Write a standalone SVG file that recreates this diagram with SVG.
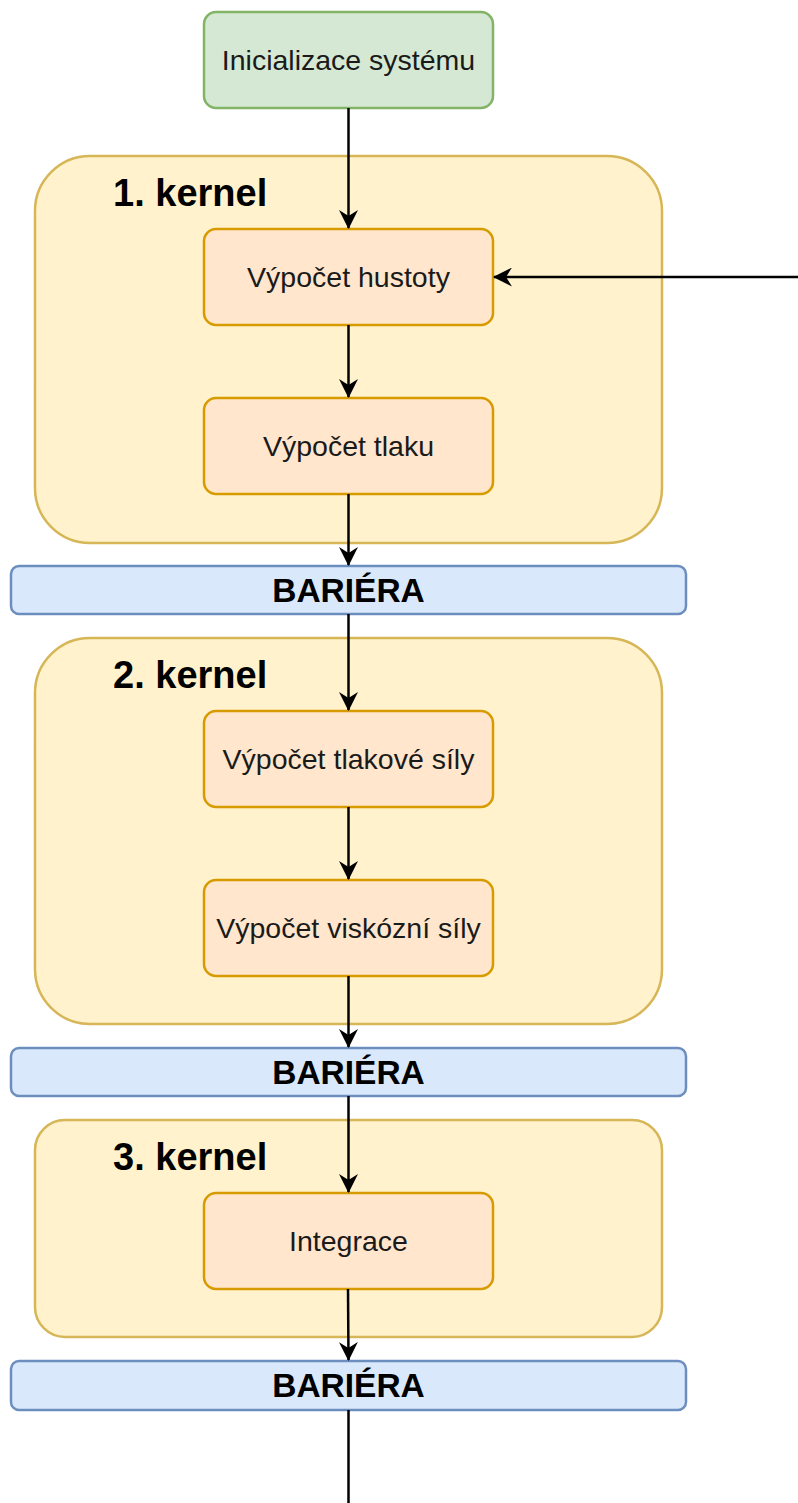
<svg xmlns="http://www.w3.org/2000/svg" width="798" height="1503" viewBox="0 0 798 1503">
<defs>
<marker id="arr" viewBox="0 0 19 19" refX="18" refY="9.5" markerWidth="19" markerHeight="19" markerUnits="userSpaceOnUse" orient="auto">
<path d="M0,0 L19,9.5 L0,19 L6,9.5 Z" fill="#000"/>
</marker>
<style>
.init{fill:#d5e8d4;stroke:#82b366;stroke-width:2.5}
.kern{fill:#fff2cc;stroke:#d6b656;stroke-width:2.5}
.step{fill:#ffe6cc;stroke:#d79b00;stroke-width:2.5}
.bar{fill:#dae8fc;stroke:#6c8ebf;stroke-width:2.5}
.t{font-family:"Liberation Sans",Arial,sans-serif;font-size:28.5px;fill:#1a1a1a;text-anchor:middle}
.kt{font-family:"Liberation Sans",Arial,sans-serif;font-size:38px;font-weight:bold;fill:#000}
.bt{font-family:"Liberation Sans",Arial,sans-serif;font-size:33.5px;font-weight:bold;fill:#000;text-anchor:middle}
.c{stroke:#000;stroke-width:2.5;fill:none}
</style>
</defs>
<g id="kernel1"><rect class="kern" x="35" y="156" width="627" height="387" rx="55"/><text class="kt" x="113" y="206">1. kernel</text></g>
<g id="kernel2"><rect class="kern" x="35" y="638" width="627" height="386" rx="55"/><text class="kt" x="113" y="688">2. kernel</text></g>
<g id="kernel3"><rect class="kern" x="35" y="1120" width="627" height="217" rx="30"/><text class="kt" x="113" y="1170">3. kernel</text></g>
<g id="init"><rect class="init" x="204" y="12" width="289" height="96" rx="12"/><text class="t" x="348.5" y="70">Inicializace systému</text></g>
<g id="hustota"><rect class="step" x="204" y="229" width="289" height="96" rx="12"/><text class="t" x="348.5" y="287">Výpočet hustoty</text></g>
<g id="tlak"><rect class="step" x="204" y="398" width="289" height="96" rx="12"/><text class="t" x="348.5" y="456">Výpočet tlaku</text></g>
<g id="bariera1"><rect class="bar" x="11" y="566" width="675" height="48" rx="8"/><text class="bt" x="348.5" y="602">BARIÉRA</text></g>
<g id="tlakova"><rect class="step" x="204" y="711" width="289" height="96" rx="12"/><text class="t" x="348.5" y="769">Výpočet tlakové síly</text></g>
<g id="viskozni"><rect class="step" x="204" y="880" width="289" height="96" rx="12"/><text class="t" x="348.5" y="938">Výpočet viskózní síly</text></g>
<g id="bariera2"><rect class="bar" x="11" y="1048" width="675" height="48" rx="8"/><text class="bt" x="348.5" y="1084">BARIÉRA</text></g>
<g id="integrace"><rect class="step" x="204" y="1193" width="289" height="96" rx="12"/><text class="t" x="348.5" y="1251">Integrace</text></g>
<g id="bariera3"><rect class="bar" x="11" y="1361" width="675" height="49" rx="8"/><text class="bt" x="348.5" y="1397">BARIÉRA</text></g>
<g id="connectors">
<line class="c" x1="348.5" y1="108" x2="348.5" y2="228" marker-end="url(#arr)"/>
<line class="c" x1="348.5" y1="325" x2="348.5" y2="397" marker-end="url(#arr)"/>
<line class="c" x1="348.5" y1="494" x2="348.5" y2="565" marker-end="url(#arr)"/>
<line class="c" x1="348.5" y1="614" x2="348.5" y2="710" marker-end="url(#arr)"/>
<line class="c" x1="348.5" y1="807" x2="348.5" y2="879" marker-end="url(#arr)"/>
<line class="c" x1="348.5" y1="976" x2="348.5" y2="1047" marker-end="url(#arr)"/>
<line class="c" x1="348.5" y1="1096" x2="348.5" y2="1192" marker-end="url(#arr)"/>
<line class="c" x1="348" y1="1289" x2="348.5" y2="1360" marker-end="url(#arr)"/>
<line class="c" x1="348.5" y1="1410" x2="348.5" y2="1503"/>
<line class="c" x1="798" y1="277" x2="494" y2="277" marker-end="url(#arr)"/>
</g>
</svg>
